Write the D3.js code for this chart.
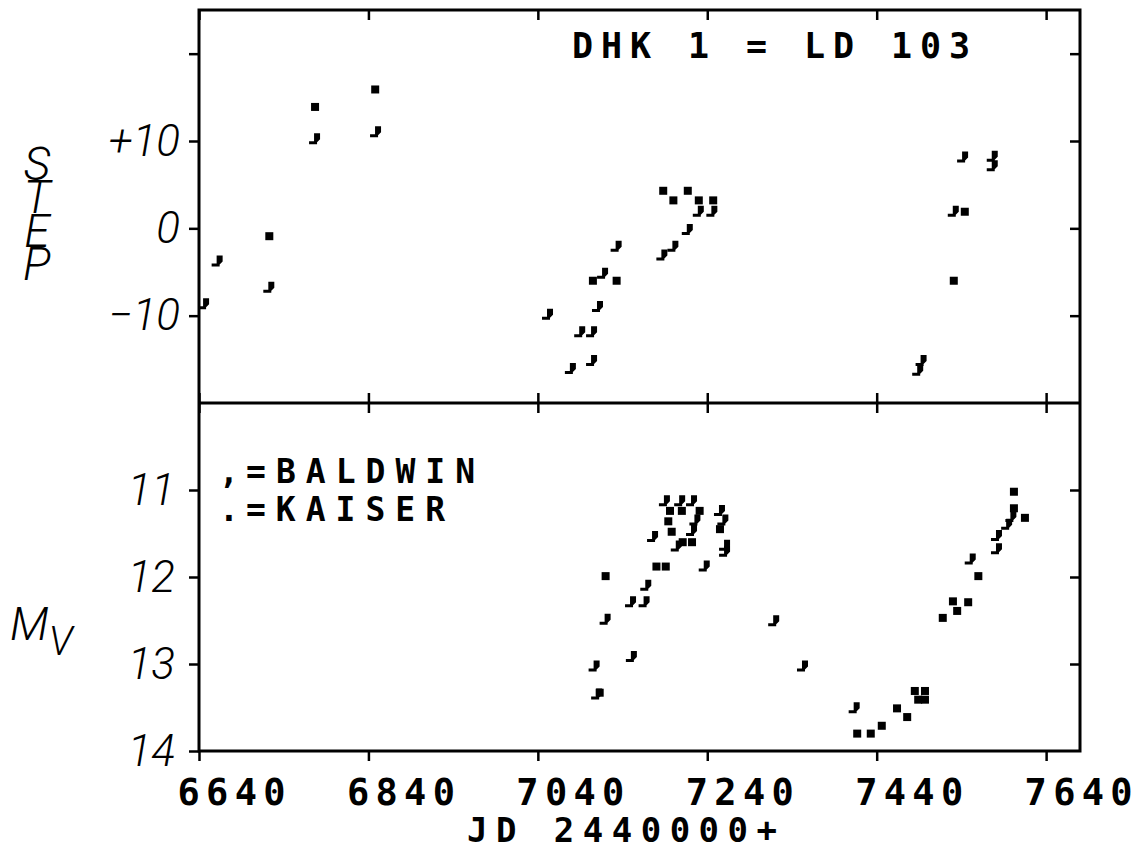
<!DOCTYPE html>
<html>
<head>
<meta charset="utf-8">
<script src="https://d3js.org/d3.v7.min.js"></script>
<style>
  body { margin: 0; background: #fff; }
  .mono { font-family: "DejaVu Sans Mono", monospace; font-weight: bold; fill: #000; }
  .hand { font-family: Roboto, "DejaVu Sans", sans-serif; font-weight: 300; font-style: italic; fill: #000; }
</style>
</head>
<body>
<div id="chart"></div>
<script>
// Data: [JD - 2440000, value]
let xTicks = [6640, 6840, 7040, 7240, 7440, 7640];
let stepTicks = [20, 10, 0, -10];
let magTicks = [11, 12, 13, 14];

let kaiserStep = [
  [6777, 13.9], [6848, 15.9], [6723, -0.9], [7188, 4.3], [7200, 3.2], [7217, 4.3],
  [7230, 3.2], [7247, 3.2], [7105, -6.0], [7133, -6.0], [7531, -6.0], [7544, 1.9]
];
let baldwinStep = [
  [6777, 10.2], [6849, 11.0], [6662, -3.8], [6723, -6.8], [6646, -8.7], [7052, -9.9],
  [7079, -16.1], [7117, -5.2], [7230, 1.9], [7246, 1.9], [7217, -0.2], [7200, -2.1],
  [7187, -3.1], [7133, -2.1], [7111, -9.0], [7090, -11.9], [7104, -11.9], [7104, -15.2],
  [7542, 8.1], [7577, 8.2], [7577, 7.1], [7531, 1.9], [7493, -15.2], [7489, -16.3]
];
let kaiserMag = [
  [7120, 11.99], [7180, 11.88], [7191, 11.88], [7194, 11.36], [7196, 11.24], [7210, 11.24],
  [7231, 11.24], [7255, 11.45], [7198, 11.48], [7211, 11.60], [7222, 11.60], [7113, 13.33],
  [7417, 13.80], [7433, 13.80], [7446, 13.71], [7464, 13.51], [7476, 13.61], [7485, 13.31],
  [7497, 13.31], [7489, 13.41], [7497, 13.41], [7518, 12.47], [7530, 12.28], [7535, 12.39],
  [7548, 12.29], [7560, 11.99], [7602, 11.21], [7602, 11.02], [7615, 11.32]
];
let baldwinMag = [
  [7190, 11.13], [7208, 11.13], [7222, 11.13], [7226, 11.35], [7255, 11.24], [7259, 11.35],
  [7176, 11.54], [7222, 11.47], [7204, 11.65], [7261, 11.64], [7261, 11.71], [7237, 11.88],
  [7168, 12.10], [7166, 12.29], [7150, 12.29], [7120, 12.49], [7151, 12.92], [7107, 13.03],
  [7110, 13.35], [7319, 12.51], [7353, 13.03], [7414, 13.51], [7551, 11.80], [7582, 11.53],
  [7582, 11.68], [7594, 11.40], [7599, 11.31]
];

let svgWidth = 1138;
let svgHeight = 850;
let margin = { top: 10, right: 58, bottom: 99, left: 199 };
let width = svgWidth - margin.left - margin.right;
let height = svgHeight - margin.top - margin.bottom;
let splitY = 393;

let svg = d3.select("#chart")
  .append("svg")
  .attr("width", svgWidth)
  .attr("height", svgHeight);

let chartGroup = svg.append("g")
  .attr("transform", `translate(${margin.left}, ${margin.top})`);

// scales
let xScale = d3.scaleLinear().domain([6640, 7680]).range([0, width]);
let yStep = d3.scaleLinear().domain([-20, 25]).range([splitY, 0]);
let yMag = d3.scaleLinear().domain([10, 14]).range([splitY, height]);

function cleanAxis(g) {
  g.select(".domain").remove();
  g.attr("font-family", null).attr("font-size", null);
  g.selectAll(".tick line").attr("stroke", "#000").attr("stroke-width", 2.5);
}

// x axes: bottom with labels, top and divider ticks only
chartGroup.append("g")
  .attr("transform", `translate(0, ${height})`)
  .call(d3.axisBottom(xScale).tickValues(xTicks).tickSize(10).tickPadding(18).tickFormat(d3.format("d")))
  .call(cleanAxis)
  .selectAll("text")
  .attr("class", "mono")
  .attr("font-size", 37)
  .attr("dx", 32)
  .attr("textLength", 108)
  .attr("lengthAdjust", "spacing");

chartGroup.append("g")
  .call(d3.axisTop(xScale).tickValues(xTicks).tickSize(-10).tickFormat(""))
  .call(cleanAxis);

chartGroup.append("g")
  .attr("transform", `translate(0, ${splitY})`)
  .call(d3.axisBottom(xScale).tickValues(xTicks).tickSize(-10).tickFormat(""))
  .call(cleanAxis);

chartGroup.append("g")
  .attr("transform", `translate(0, ${splitY})`)
  .call(d3.axisBottom(xScale).tickValues(xTicks).tickSize(10).tickFormat(""))
  .call(cleanAxis);

// y axes
let stepFormat = d => d === 20 ? "" : (d > 0 ? "+" + d : d < 0 ? "\u2212" + Math.abs(d) : "" + d);

chartGroup.append("g")
  .call(d3.axisLeft(yStep).tickValues(stepTicks).tickSize(10).tickPadding(9).tickFormat(stepFormat))
  .call(cleanAxis)
  .selectAll("text")
  .attr("class", "hand")
  .attr("font-size", 44);

chartGroup.append("g")
  .attr("transform", `translate(${width}, 0)`)
  .call(d3.axisRight(yStep).tickValues(stepTicks).tickSize(-10).tickFormat(""))
  .call(cleanAxis);

chartGroup.append("g")
  .call(d3.axisLeft(yMag).tickValues(magTicks).tickSize(10).tickPadding(14).tickFormat(d3.format("d")))
  .call(cleanAxis)
  .selectAll("text")
  .attr("class", "hand")
  .attr("font-size", 44);

chartGroup.append("g")
  .attr("transform", `translate(${width}, 0)`)
  .call(d3.axisRight(yMag).tickValues([11, 12, 13]).tickSize(-10).tickFormat(""))
  .call(cleanAxis);

// frame
chartGroup.append("rect")
  .attr("width", width)
  .attr("height", height)
  .attr("fill", "none")
  .attr("stroke", "#000")
  .attr("stroke-width", 3);

chartGroup.append("line")
  .attr("x1", 0).attr("x2", width)
  .attr("y1", splitY).attr("y2", splitY)
  .attr("stroke", "#000")
  .attr("stroke-width", 3);

// markers: Kaiser = square dot, Baldwin = comma
let commaPath = "M-1,-6H5V0L2,3V5H-6V2H-1Z";

function drawKaiser(data, yScale) {
  chartGroup.append("g").selectAll("rect")
    .data(data)
    .enter()
    .append("rect")
    .attr("x", d => xScale(d[0]) - 4)
    .attr("y", d => yScale(d[1]) - 4)
    .attr("width", 8)
    .attr("height", 8)
    .attr("fill", "#000");
}

function drawBaldwin(data, yScale) {
  chartGroup.append("g").selectAll("path")
    .data(data)
    .enter()
    .append("path")
    .attr("d", commaPath)
    .attr("transform", d => `translate(${xScale(d[0])}, ${yScale(d[1])})`)
    .attr("fill", "#000");
}

drawKaiser(kaiserStep, yStep);
drawBaldwin(baldwinStep, yStep);
drawKaiser(kaiserMag, yMag);
drawBaldwin(baldwinMag, yMag);

// title and legend
chartGroup.append("text")
  .attr("class", "mono")
  .attr("x", 373).attr("y", 48)
  .attr("font-size", 35)
  .attr("textLength", 398)
  .attr("lengthAdjust", "spacing")
  .text("DHK 1 = LD 103");

chartGroup.append("text")
  .attr("class", "mono")
  .attr("x", 20).attr("y", 473)
  .attr("font-size", 33)
  .text(",");
chartGroup.append("text")
  .attr("class", "mono")
  .attr("x", 47).attr("y", 473)
  .attr("font-size", 33)
  .attr("textLength", 229)
  .attr("lengthAdjust", "spacing")
  .text("=BALDWIN");

chartGroup.append("text")
  .attr("class", "mono")
  .attr("x", 20).attr("y", 511)
  .attr("font-size", 33)
  .text(".");
chartGroup.append("text")
  .attr("class", "mono")
  .attr("x", 47).attr("y", 511)
  .attr("font-size", 33)
  .attr("textLength", 199)
  .attr("lengthAdjust", "spacing")
  .text("=KAISER");

// axis titles
chartGroup.append("text")
  .attr("class", "mono")
  .attr("x", 423).attr("y", 832)
  .attr("text-anchor", "middle")
  .attr("font-size", 34)
  .attr("textLength", 310)
  .attr("lengthAdjust", "spacing")
  .text("JD 2440000+");

// STEP written as one vertical, upright run
svg.append("text")
  .attr("class", "hand")
  .attr("x", 37).attr("y", 137)
  .attr("font-size", 46)
  .style("writing-mode", "vertical-rl")
  .style("text-orientation", "upright")
  .attr("textLength", 154)
  .attr("lengthAdjust", "spacing")
  .text("STEP");

let mv = svg.append("text")
  .attr("class", "hand")
  .attr("x", 10).attr("y", 640)
  .attr("font-size", 46)
  .text("M");
mv.append("tspan")
  .attr("dy", 15)
  .attr("font-size", 40)
  .text("V");
</script>
</body>
</html>
